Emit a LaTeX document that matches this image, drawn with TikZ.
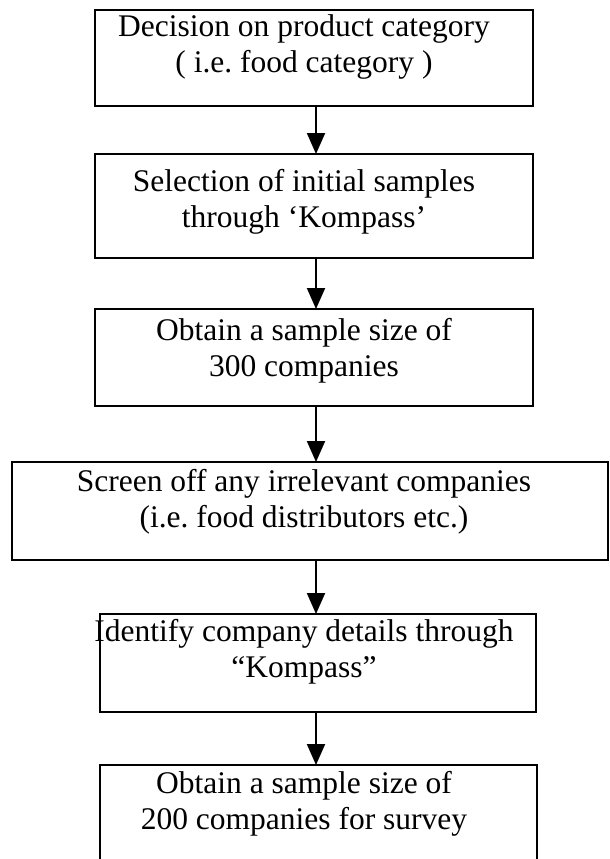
\documentclass[tikz,border=0pt]{standalone}
\usepackage{fontspec}
\setmainfont{Liberation Serif}
\usetikzlibrary{arrows.meta}
\frenchspacing
\tikzset{
  box/.style={draw=black, line width=2.6pt, rectangle, inner sep=0pt, outer sep=0pt},
  txt/.style={align=center, inner sep=0pt, font=\fontsize{31.5}{35.5}\selectfont},
  arr/.style={draw=black, line width=2pt, -{Triangle[length=21pt,width=18pt]}}
}
\begin{document}
\begin{tikzpicture}[x=1pt,y=-1pt]
\useasboundingbox (0,0) rectangle (610,859);
\fill[white] (0,0) rectangle (610,859);
% boxes
\node[box, minimum width=438pt, minimum height=96pt]  (b1) at (314,58) {};
\node[box, minimum width=438pt, minimum height=104pt] (b2) at (314,206) {};
\node[box, minimum width=438pt, minimum height=97pt]  (b3) at (314,357.5) {};
\node[box, minimum width=596pt, minimum height=98pt]  (b4) at (310,511) {};
\node[box, minimum width=436pt, minimum height=98pt]  (b5) at (318,663) {};
\node[box, minimum width=437pt, minimum height=110pt] (b6) at (318.5,820) {};
% texts
\node[txt] (t1) at (304,47)  {Decision on product category\\( i.e. food category )};
\node[txt] (t2) at (304,202) {Selection of initial samples\\through ‘Kompass’};
\node[txt] (t3) at (304,351) {Obtain a sample size of\\300 companies};
\node[txt] (t4) at (304,502) {Screen off any irrelevant companies\\(i.e. food distributors etc.)};
\node[txt] (t5) at (304,652) {Identify company details through\\“Kompass”};
\node[txt] (t6) at (304,804) {Obtain a sample size of\\200 companies for survey};
% arrows
\coordinate (ax) at (316,0);
\draw[arr] (b1.south -| ax) -- (b2.north -| ax);
\draw[arr] (b2.south -| ax) -- (b3.north -| ax);
\draw[arr] (b3.south -| ax) -- (b4.north -| ax);
\draw[arr] (b4.south -| ax) -- (b5.north -| ax);
\draw[arr] (b5.south -| ax) -- (b6.north -| ax);
\end{tikzpicture}
\end{document}
